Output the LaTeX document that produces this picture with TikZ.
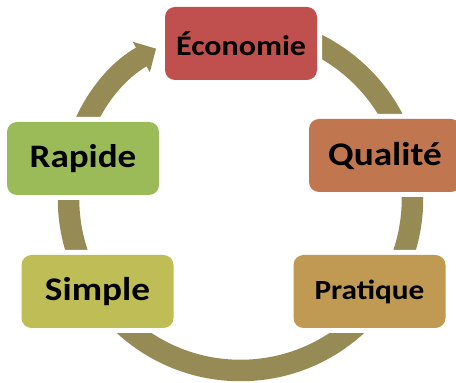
\documentclass[tikz,border=0pt]{standalone}
\usepackage{fontspec}
\setmainfont{Carlito}[FakeStretch=1.13]
\usetikzlibrary{arrows.meta,positioning,backgrounds}
\definecolor{coloreco}{RGB}{192,80,77}
\definecolor{colorqual}{RGB}{192,119,79}
\definecolor{colorprat}{RGB}{192,154,82}
\definecolor{colorsimp}{RGB}{191,189,86}
\definecolor{colorrap}{RGB}{155,187,89}
\definecolor{colorring}{RGB}{150,139,85}
\tikzstyle{etape}=[rectangle, rounded corners=10pt, minimum width=152pt, minimum height=73pt, inner sep=0pt, font=\bfseries, preaction={draw=white, line width=10pt}]
\tikzstyle{anneau}=[draw=colorring, line width=21.5pt, -{Triangle[length=17pt, width=34pt]}]

\begin{document}
\begin{tikzpicture}[x=1pt, y=1pt]
		\useasboundingbox (0, 0) rectangle (456, 383);
		
		\node[etape, fill=coloreco] at (241, 339.5) (eco) {\fontsize{28.3}{30}\selectfont Économie};
		
		\node[etape, fill=colorqual] at (385, 227.5) (qual) {\fontsize{33}{36}\selectfont Qualité};
		
		\node[etape, fill=colorprat] at (369.5, 91.5) (prat) {\fontsize{27.7}{30}\selectfont Pratique};
		
		\node[etape, fill=colorsimp] at (97.5, 91.5) (simp) {\fontsize{33}{36}\selectfont Simple};
		
		\node[etape, fill=colorrap] at (83, 224.5) (rap) {\fontsize{32.8}{36}\selectfont Rapide};
		
		\coordinate (centre) at (240.5, 184.5);
		
		\begin{scope}[on background layer]
		\draw[anneau] (centre) ++(90:172) arc[start angle=90, end angle=-240.6, radius=172];
		\end{scope}
		
		\end{tikzpicture}
\end{document}
